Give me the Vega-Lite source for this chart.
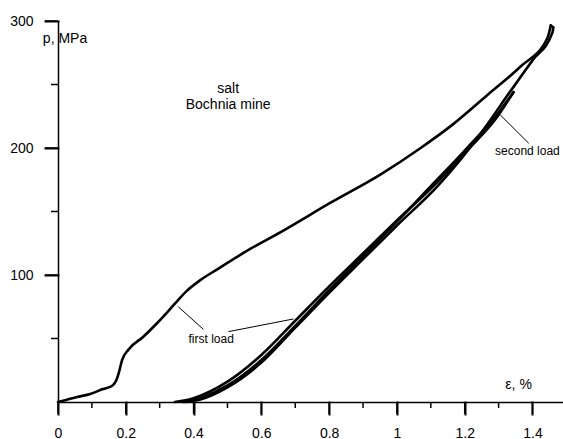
{
  "$schema": "https://vega.github.io/schema/vega-lite/v6.json",
  "autosize": {"type": "none"},
  "padding": {"left": 58, "top": 21, "right": 0, "bottom": 37},
  "width": 505,
  "height": 381,
  "background": "white",
  "config": {
    "view": {"stroke": null},
    "font": "Liberation Sans",
    "axis": {"grid": false, "domainColor": "black", "domainWidth": 1.5, "labelColor": "black", "labelFont": "Liberation Sans", "labelFontSize": 14, "title": null, "labelFlush": false, "labelOverlap": false}
  },
  "resolve": {"axis": {"x": "independent", "y": "independent"}},
  "datasets": {
    "curves": [
      {"s": "first load", "o": 1, "x": 0, "y": 0},
      {"s": "first load", "o": 2, "x": 0.024, "y": 1.6},
      {"s": "first load", "o": 3, "x": 0.056, "y": 3.9},
      {"s": "first load", "o": 4, "x": 0.095, "y": 6.3},
      {"s": "first load", "o": 5, "x": 0.133, "y": 10.2},
      {"s": "first load", "o": 6, "x": 0.159, "y": 12.6},
      {"s": "first load", "o": 7, "x": 0.171, "y": 16.5},
      {"s": "first load", "o": 8, "x": 0.18, "y": 23.6},
      {"s": "first load", "o": 9, "x": 0.189, "y": 33},
      {"s": "first load", "o": 10, "x": 0.207, "y": 41},
      {"s": "first load", "o": 11, "x": 0.251, "y": 51.2},
      {"s": "first load", "o": 12, "x": 0.292, "y": 62},
      {"s": "first load", "o": 13, "x": 0.33, "y": 73},
      {"s": "first load", "o": 14, "x": 0.355, "y": 80.5},
      {"s": "first load", "o": 15, "x": 0.38, "y": 87.5},
      {"s": "first load", "o": 16, "x": 0.42, "y": 96},
      {"s": "first load", "o": 17, "x": 0.47, "y": 104.5},
      {"s": "first load", "o": 18, "x": 0.567, "y": 120.5},
      {"s": "first load", "o": 19, "x": 0.665, "y": 135},
      {"s": "first load", "o": 20, "x": 0.803, "y": 156.7},
      {"s": "first load", "o": 21, "x": 0.951, "y": 179},
      {"s": "first load", "o": 22, "x": 1.07, "y": 200},
      {"s": "first load", "o": 23, "x": 1.167, "y": 219},
      {"s": "first load", "o": 24, "x": 1.267, "y": 241.7},
      {"s": "first load", "o": 25, "x": 1.364, "y": 264},
      {"s": "first load", "o": 26, "x": 1.444, "y": 286.6},
      {"s": "first load", "o": 27, "x": 1.454, "y": 296.5},
      {"s": "first unload", "o": 1, "x": 1.454, "y": 296.5},
      {"s": "first unload", "o": 2, "x": 1.462, "y": 295},
      {"s": "first unload", "o": 3, "x": 1.459, "y": 291},
      {"s": "first unload", "o": 4, "x": 1.4, "y": 269},
      {"s": "first unload", "o": 5, "x": 1.333, "y": 244},
      {"s": "first unload", "o": 6, "x": 1.254, "y": 214},
      {"s": "first unload", "o": 7, "x": 1.188, "y": 191},
      {"s": "first unload", "o": 8, "x": 1.12, "y": 170},
      {"s": "first unload", "o": 9, "x": 1.0, "y": 139},
      {"s": "first unload", "o": 10, "x": 0.9, "y": 112.5},
      {"s": "first unload", "o": 11, "x": 0.8, "y": 86},
      {"s": "first unload", "o": 12, "x": 0.7, "y": 58.5},
      {"s": "first unload", "o": 13, "x": 0.6, "y": 31},
      {"s": "first unload", "o": 14, "x": 0.5, "y": 11.5},
      {"s": "first unload", "o": 15, "x": 0.42, "y": 2},
      {"s": "first unload", "o": 16, "x": 0.37, "y": 0},
      {"s": "second load", "o": 1, "x": 0.345, "y": 0},
      {"s": "second load", "o": 2, "x": 0.4, "y": 3},
      {"s": "second load", "o": 3, "x": 0.5, "y": 16},
      {"s": "second load", "o": 4, "x": 0.6, "y": 37},
      {"s": "second load", "o": 5, "x": 0.7, "y": 64},
      {"s": "second load", "o": 6, "x": 0.8, "y": 91},
      {"s": "second load", "o": 7, "x": 0.9, "y": 117},
      {"s": "second load", "o": 8, "x": 1.0, "y": 143},
      {"s": "second load", "o": 9, "x": 1.1, "y": 168},
      {"s": "second load", "o": 10, "x": 1.2, "y": 196},
      {"s": "second load", "o": 11, "x": 1.3, "y": 226},
      {"s": "second load", "o": 12, "x": 1.344, "y": 244},
      {"s": "second unload", "o": 1, "x": 1.344, "y": 244},
      {"s": "second unload", "o": 2, "x": 1.3, "y": 228},
      {"s": "second unload", "o": 3, "x": 1.2, "y": 198},
      {"s": "second unload", "o": 4, "x": 1.1, "y": 170},
      {"s": "second unload", "o": 5, "x": 1.0, "y": 142},
      {"s": "second unload", "o": 6, "x": 0.9, "y": 115},
      {"s": "second unload", "o": 7, "x": 0.8, "y": 88},
      {"s": "second unload", "o": 8, "x": 0.7, "y": 60},
      {"s": "second unload", "o": 9, "x": 0.6, "y": 33},
      {"s": "second unload", "o": 10, "x": 0.5, "y": 13},
      {"s": "second unload", "o": 11, "x": 0.42, "y": 3},
      {"s": "second unload", "o": 12, "x": 0.38, "y": 0}
    ],
    "leaders": [
      {"x": 0.355, "y": 75.0, "x2": 0.429, "y2": 57.2},
      {"x": 0.503, "y": 55.4, "x2": 0.695, "y2": 65.4},
      {"x": 1.305, "y": 226, "x2": 1.389, "y2": 203.7}
    ],
    "labels": [
      {"t": "p, MPa", "x": 0.0207, "y": 282.5, "a": "left", "fs": 14},
      {"t": "salt", "x": 0.502, "y": 243.5, "a": "center", "fs": 14},
      {"t": "Bochnia mine", "x": 0.502, "y": 230.5, "a": "center", "fs": 14},
      {"t": "first load", "x": 0.452, "y": 46.7, "a": "center", "fs": 12},
      {"t": "second load", "x": 1.385, "y": 194.5, "a": "center", "fs": 12},
      {"t": "ε, %", "x": 1.359, "y": 10, "a": "left", "fs": 14}
    ],
    "xmajor": [{"v": 0}, {"v": 0.2}, {"v": 0.4}, {"v": 0.6}, {"v": 0.8}, {"v": 1}, {"v": 1.2}, {"v": 1.4}],
    "xminor": [{"v": 0.1}, {"v": 0.3}, {"v": 0.5}, {"v": 0.7}, {"v": 0.9}, {"v": 1.1}, {"v": 1.3}],
    "ymajor": [{"v": 100}, {"v": 200}, {"v": 300}],
    "yminor": [{"v": 50}, {"v": 150}, {"v": 250}]
  },
  "layer": [
    {
      "data": {"name": "curves"},
      "mark": {"type": "line", "color": "black", "strokeWidth": 2.6, "strokeJoin": "round", "strokeCap": "round", "interpolate": "monotone"},
      "encoding": {
        "x": {"field": "x", "type": "quantitative", "scale": {"domain": [0, 1.49], "nice": false, "zero": false},
          "axis": {"orient": "bottom", "values": [0, 0.2, 0.4, 0.6, 0.8, 1, 1.2, 1.4], "format": "~g", "ticks": true, "tickSize": 12, "tickColor": "black", "tickWidth": 2, "tickCap": "square", "labelPadding": 12}},
        "y": {"field": "y", "type": "quantitative", "scale": {"domain": [0, 300], "nice": false},
          "axis": {"orient": "left", "values": [100, 200, 300], "ticks": true, "tickSize": 13, "tickColor": "black", "tickWidth": 2, "tickCap": "square", "labelPadding": 12}},
        "detail": {"field": "s"},
        "order": {"field": "o", "type": "quantitative"}
      }
    },
    {
      "data": {"name": "xmajor"},
      "mark": {"type": "rule", "color": "black", "strokeWidth": 1.5, "clip": false},
      "encoding": {
        "x": {"field": "v", "type": "quantitative", "scale": {"domain": [0, 1.49], "nice": false, "zero": false}, "axis": null},
        "y": {"datum": 0, "type": "quantitative", "scale": {"domain": [0, 300], "nice": false}, "axis": null},
        "y2": {"datum": -9.4}
      }
    },
    {
      "data": {"name": "xminor"},
      "mark": {"type": "rule", "color": "black", "strokeWidth": 1.5, "clip": false},
      "encoding": {
        "x": {"field": "v", "type": "quantitative", "scale": {"domain": [0, 1.49], "nice": false, "zero": false}, "axis": null},
        "y": {"datum": 0, "type": "quantitative", "scale": {"domain": [0, 300], "nice": false}, "axis": null},
        "y2": {"datum": -4.7}
      }
    },
    {
      "data": {"name": "ymajor"},
      "mark": {"type": "rule", "color": "black", "strokeWidth": 1.5, "clip": false},
      "encoding": {
        "y": {"field": "v", "type": "quantitative", "scale": {"domain": [0, 300], "nice": false}, "axis": null},
        "x": {"datum": 0, "type": "quantitative", "scale": {"domain": [0, 1.49], "nice": false, "zero": false}, "axis": null},
        "x2": {"datum": -0.0384}
      }
    },
    {
      "data": {"name": "yminor"},
      "mark": {"type": "rule", "color": "black", "strokeWidth": 1.5, "clip": false},
      "encoding": {
        "y": {"field": "v", "type": "quantitative", "scale": {"domain": [0, 300], "nice": false}, "axis": null},
        "x": {"datum": 0, "type": "quantitative", "scale": {"domain": [0, 1.49], "nice": false, "zero": false}, "axis": null},
        "x2": {"datum": -0.0207}
      }
    },
    {
      "data": {"name": "leaders"},
      "mark": {"type": "rule", "color": "black", "strokeWidth": 1},
      "encoding": {
        "x": {"field": "x", "type": "quantitative", "scale": {"domain": [0, 1.49], "nice": false, "zero": false}, "axis": null},
        "y": {"field": "y", "type": "quantitative", "scale": {"domain": [0, 300], "nice": false}, "axis": null},
        "x2": {"field": "x2"},
        "y2": {"field": "y2"}
      }
    },
    {
      "data": {"name": "labels"},
      "mark": {"type": "text", "color": "black", "font": "Liberation Sans", "baseline": "alphabetic"},
      "encoding": {
        "x": {"field": "x", "type": "quantitative", "scale": {"domain": [0, 1.49], "nice": false, "zero": false}, "axis": null},
        "y": {"field": "y", "type": "quantitative", "scale": {"domain": [0, 300], "nice": false}, "axis": null},
        "text": {"field": "t"},
        "align": {"field": "a"},
        "size": {"field": "fs", "type": "quantitative", "scale": null}
      }
    }
  ]
}
